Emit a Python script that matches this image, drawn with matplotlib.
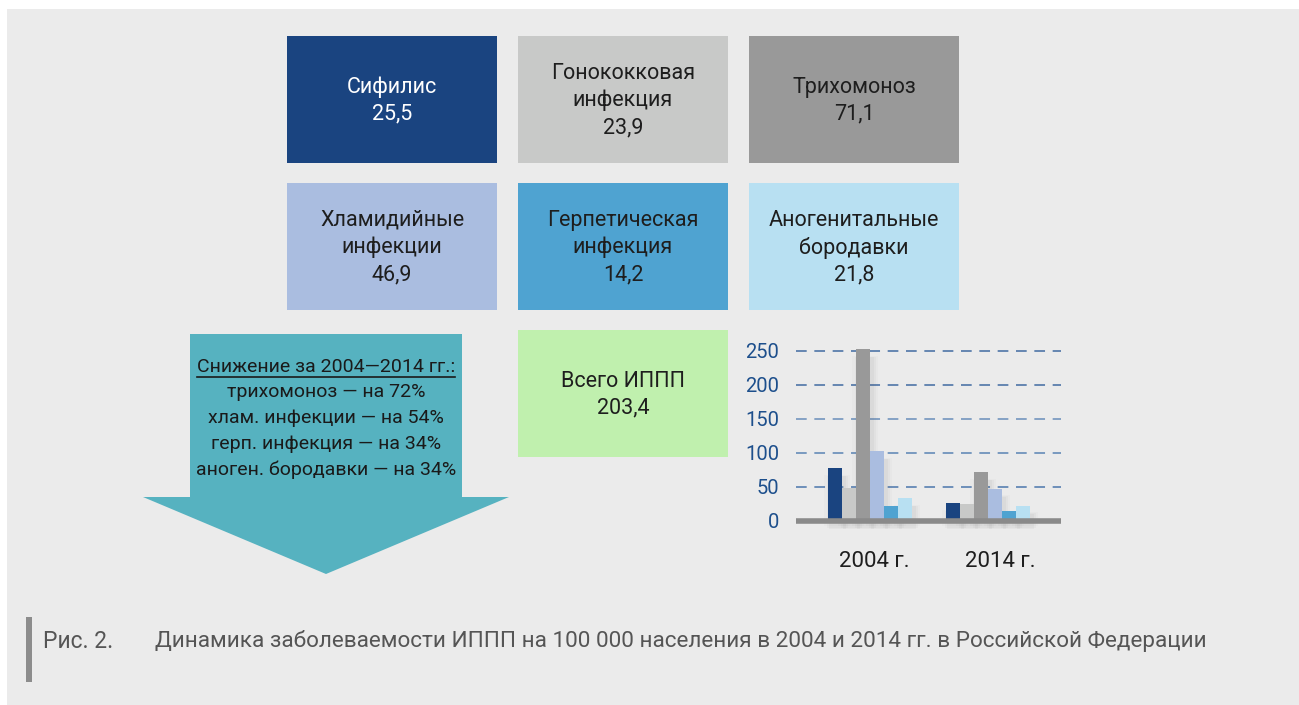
import matplotlib
matplotlib.use("Agg")
import matplotlib.pyplot as plt
from matplotlib.patches import Rectangle, Polygon
import numpy as np

plt.rcParams['font.family'] = ['Roboto', 'DejaVu Sans']

# ---- data ----
categories = ["Сифилис", "Гонококковая\nинфекция", "Трихомоноз",
              "Хламидийные\nинфекции", "Герпетическая\nинфекция", "Аногенитальные\nбородавки"]
values_2014_text = ["25,5", "23,9", "71,1", "46,9", "14,2", "21,8"]
values_2014 = [25.5, 23.9, 71.1, 46.9, 14.2, 21.8]
values_2004 = [77, 48, 252, 102, 21.5, 33]
total_label = "Всего ИППП"
total_2014 = "203,4"
years = ["2004 г.", "2014 г."]
yticks = [0, 50, 100, 150, 200, 250]
decline_title = "Снижение за 2004—2014 гг.:"
decline_lines = ["трихомоноз — на 72%", "хлам. инфекции — на 54%",
                 "герп. инфекция — на 34%", "аноген. бородавки — на 34%"]
caption_num = "Рис. 2."
caption = "Динамика заболеваемости ИППП на 100 000 населения в 2004 и 2014 гг. в Российской Федерации"

colors = ["#1a4480", "#c8c9c8", "#999999", "#aabde0", "#4fa3d1", "#b8e0f2"]
text_colors = ["white", "#1e1e1e", "#1e1e1e", "#1e1e1e", "#1e1e1e", "#1e1e1e"]

W, H = 1299, 705
fig = plt.figure(figsize=(W / 100, H / 100), dpi=100)
fig.patch.set_facecolor("white")

ax0 = fig.add_axes([0, 0, 1, 1])
ax0.set_xlim(0, W)
ax0.set_ylim(H, 0)
ax0.axis("off")

# background panel
ax0.add_patch(Rectangle((7, 9), W - 7, H - 9, facecolor="#ebebeb", edgecolor="none"))

# boxes
box_x = [287, 518, 749]
box_y = [36, 183]
bw, bh = 210, 127
BOX_FS = 15.5
for i, (name, val) in enumerate(zip(categories, values_2014_text)):
    r, c = divmod(i, 3)
    x0, y0 = box_x[c], box_y[r]
    ax0.add_patch(Rectangle((x0, y0), bw, bh, facecolor=colors[i], edgecolor="none"))
    ax0.text(x0 + bw / 2, y0 + bh / 2 + 1, name + "\n" + val, ha="center", va="center",
             fontsize=BOX_FS, color=text_colors[i], linespacing=1.36)

# total box
ax0.add_patch(Rectangle((518, 330), bw, bh, facecolor="#c0f0ae", edgecolor="none"))
ax0.text(518 + bw / 2, 330 + bh / 2 + 1, total_label + "\n" + total_2014, ha="center", va="center",
         fontsize=BOX_FS, color="#1e1e1e", linespacing=1.36)

# arrow
arrow = Polygon([(190, 334), (462, 334), (462, 497), (509, 497), (326, 574),
                 (143, 497), (190, 497)], closed=True, facecolor="#56b2c0", edgecolor="none")
ax0.add_patch(arrow)
AFS = 14
t_title = ax0.text(326, 367, decline_title, ha="center", va="center", fontsize=AFS, color="#1a1a1a")
for k, line in enumerate(decline_lines):
    ax0.text(326, 392 + 26 * k, line, ha="center", va="center", fontsize=AFS, color="#1a1a1a")

# underline the title
fig.canvas.draw()
bb = t_title.get_window_extent(renderer=fig.canvas.get_renderer())
ax0.plot([bb.x0, bb.x1], [377, 377], color="#1a1a1a", lw=1.2)

# caption
ax0.add_patch(Rectangle((26, 617), 6, 65, facecolor="#8c8c8c", edgecolor="none"))
ax0.text(43, 641, caption_num, ha="left", va="center", fontsize=16.5, color="#555555")
ax0.text(155, 641, caption, ha="left", va="center", fontsize=16.2, color="#555555")

# ---- bar chart ----
ppu = 170 / 250.0  # pixels per unit
y_bottom_px = 520.5
ymax = 262
top_px = y_bottom_px - ymax * ppu
left_px, right_px = 796, 1061
ax = fig.add_axes([left_px / W, 1 - y_bottom_px / H, (right_px - left_px) / W, (y_bottom_px - top_px) / H])
ax.set_facecolor("none")
gp = 118.0
ax.set_xlim((left_px - 870) / gp, (right_px - 870) / gp)
ax.set_ylim(0, ymax)

grid_cols = {50: "#3a6aa5", 100: "#4a78ad", 150: "#5b84b5", 200: "#2e5d9a", 250: "#2e5d9a"}
for t in yticks[1:]:
    ax.axhline(t, color=grid_cols[t], lw=1.1, ls=(0, (7, 5)), zorder=1, alpha=0.9)

n = len(values_2014)
bwid = 14 / gp
x = np.arange(len(years))
data = [values_2004, values_2014]
for gi in range(len(years)):
    for j in range(n):
        xc = x[gi] + (j - (n - 1) / 2) * bwid
        v = data[gi][j]
        # soft shadow behind each bar
        for s, a in [(0.10, 0.025), (0.06, 0.035), (0.03, 0.045)]:
            ax.bar(xc + 0.02, v + 1 - s * 30, width=bwid + s, bottom=-14 + s * 60,
                   color="#555555", alpha=a, zorder=2, linewidth=0, clip_on=False)
        ax.bar(xc, v, width=bwid, color=colors[j], zorder=3, linewidth=0)

# floor
ax.plot([ax.get_xlim()[0], ax.get_xlim()[1]], [0, 0], color="#8a8a8a", lw=4,
        solid_capstyle="butt", zorder=4, clip_on=False)

ax.set_yticks(yticks)
ax.set_yticklabels([str(t) for t in yticks], fontsize=14.5, color="#1d4f8c")
ax.tick_params(axis="y", length=0, pad=12)
ax.set_xticks(x + np.array([0.04, 0.10]))
ax.set_xticklabels(years, fontsize=16, color="#1e1e1e")
ax.tick_params(axis="x", length=0, pad=22)
for sp in ax.spines.values():
    sp.set_visible(False)

fig.savefig("out.png", dpi=100, facecolor=fig.get_facecolor())
